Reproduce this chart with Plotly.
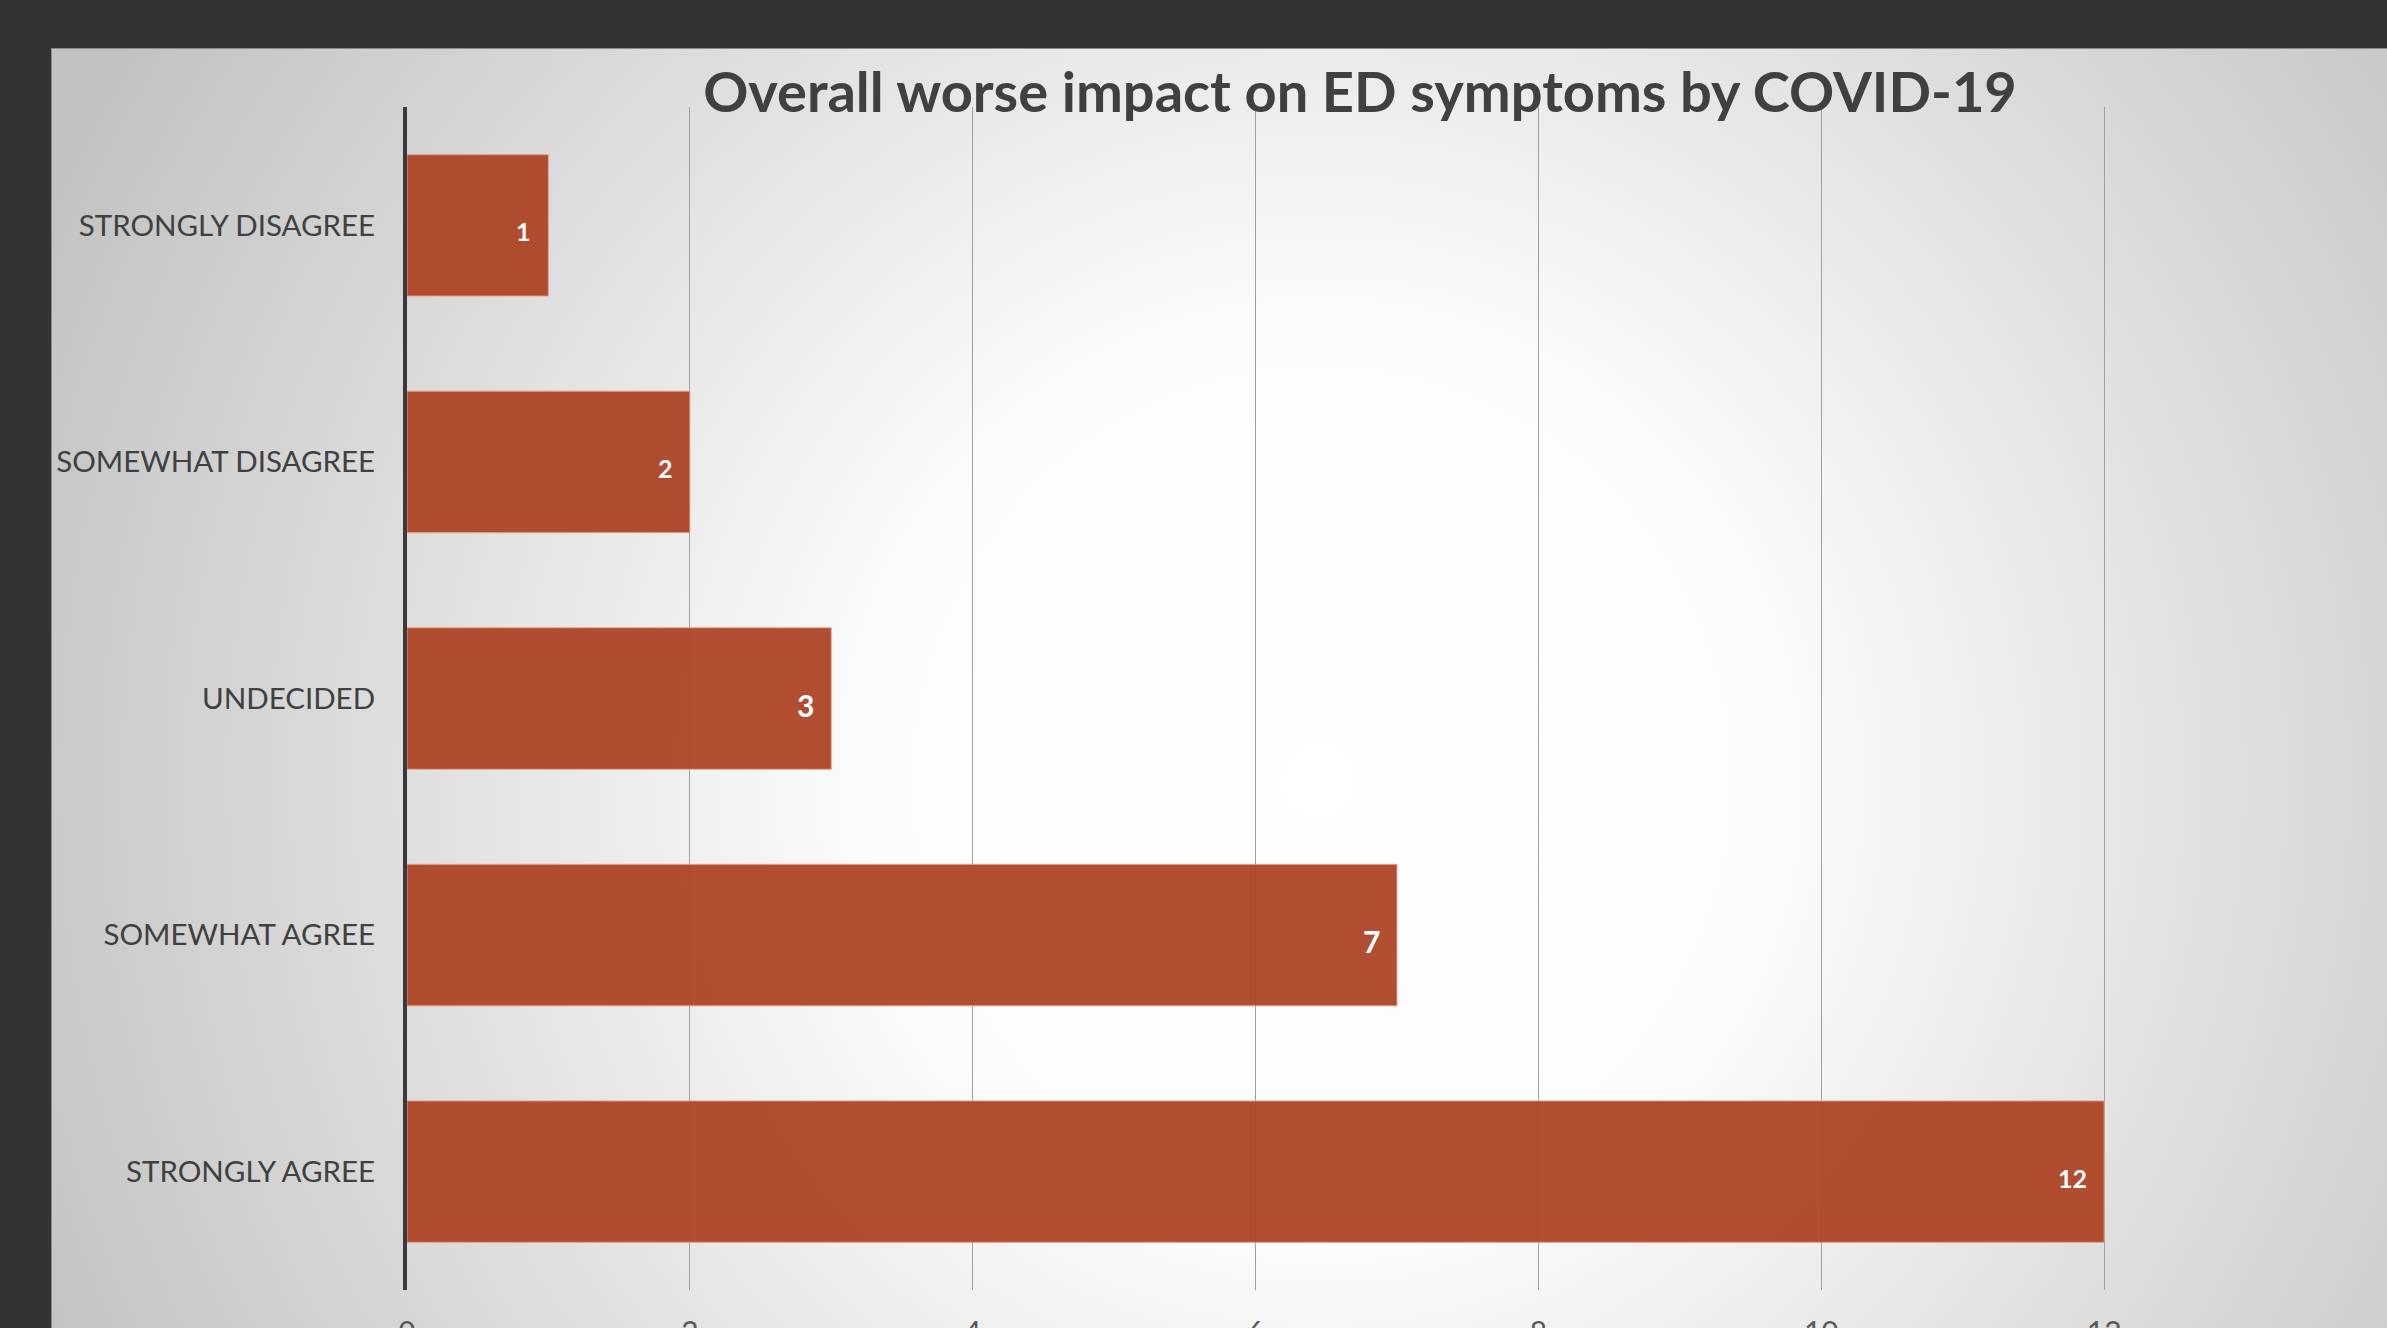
import base64
import plotly.graph_objects as go

# ---- data ----
categories = ["STRONGLY DISAGREE", "SOMEWHAT DISAGREE", "UNDECIDED", "SOMEWHAT AGREE", "STRONGLY AGREE"]
counts = [1, 2, 3, 7, 12]
x_tick_values = [0, 2, 4, 6, 8, 10, 12, 14]
title_text = "Overall worse impact on ED symptoms by COVID-19"

# ---- layout geometry (pixels) ----
W, H = 2387, 1328
L, R, T, B = 407, 0, 107, 38
PANEL_X, PANEL_Y = 51, 48
plot_w = W - L - R
plot_h = H - T - B

# radial gradient background as an SVG image
pw, ph = W - PANEL_X, H - PANEL_Y
svg = f'''<svg xmlns="http://www.w3.org/2000/svg" width="{pw}" height="{ph}" viewBox="0 0 {pw} {ph}">
<defs><radialGradient id="g" gradientUnits="userSpaceOnUse" cx="{1320-PANEL_X}" cy="{780-PANEL_Y}" r="1400">
<stop offset="0" stop-color="#ffffff"/><stop offset="0.32" stop-color="#fcfcfc"/>
<stop offset="0.64" stop-color="#e0e0e0"/><stop offset="1" stop-color="#c2c2c2"/></radialGradient></defs>
<rect x="0" y="0" width="{pw}" height="{ph}" fill="url(#g)"/>
<line x1="0" y1="0.5" x2="{pw}" y2="0.5" stroke="#8a8a8a" stroke-width="1"/>
<line x1="0.5" y1="0" x2="0.5" y2="{ph}" stroke="#8a8a8a" stroke-width="1"/>
</svg>'''
svg_uri = "data:image/svg+xml;base64," + base64.b64encode(svg.encode()).decode()

fig = go.Figure()
fig.add_trace(go.Bar(
    x=counts, y=categories, orientation="h",
    marker=dict(color="rgba(172,66,36,0.94)", line=dict(color="rgba(235,165,145,0.75)", width=1.2)),
    hoverinfo="skip",
))

label_sizes = [25, 25, 30, 30, 25]
for c, v, s in zip(categories, counts, label_sizes):
    fig.add_annotation(x=v, y=c, xref="x", yref="y", text=f"<b>{v}</b>", showarrow=False,
                       xanchor="right", yanchor="middle", xshift=-15, yshift=-6,
                       font=dict(family="Lato", size=s, color="#ffffff"))

fig.add_layout_image(dict(
    source=svg_uri, xref="paper", yref="paper",
    x=(PANEL_X - L) / plot_w, y=1 + (T - PANEL_Y) / plot_h,
    sizex=pw / plot_w, sizey=ph / plot_h,
    xanchor="left", yanchor="top", sizing="stretch", layer="below",
))

fig.update_layout(
    width=W, height=H,
    margin=dict(l=L, r=R, t=T, b=B, pad=0, autoexpand=False),
    paper_bgcolor="#333333", plot_bgcolor="rgba(0,0,0,0)",
    bargap=0.402, showlegend=False,
    title=dict(text=title_text, x=(1360 - L) / plot_w, xref="paper", xanchor="center",
               y=1 - 92 / H, yref="container", yanchor="middle", automargin=False,
               font=dict(family="Lato", size=56, color="#404040", weight="bold")),
    xaxis=dict(range=[0, 14], tickvals=x_tick_values, showgrid=True, gridcolor="#a0a0a0", gridwidth=1,
               zeroline=False, showline=False, ticks="outside", ticklen=16, tickcolor="rgba(0,0,0,0)",
               automargin=False,
               tickfont=dict(family="Lato", size=30, color="#595959")),
    yaxis=dict(range=[4.5, -0.5], showgrid=False, zeroline=False,
               showline=True, linecolor="#3a3a3a", linewidth=4,
               ticks="outside", ticklen=22, tickcolor="rgba(0,0,0,0)", automargin=False,
               tickfont=dict(family="Lato", size=29.5, color="#404040")),
)

fig.write_html("out.html")
